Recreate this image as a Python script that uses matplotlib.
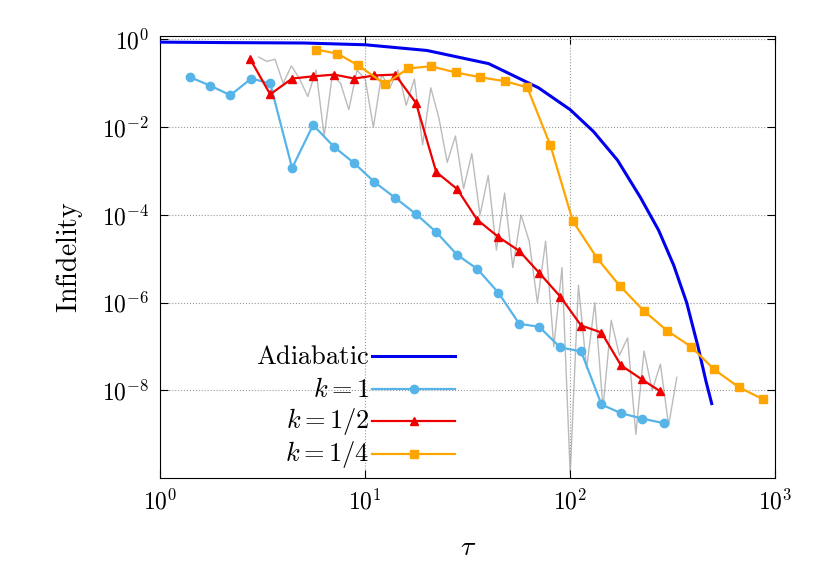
import numpy as np
import matplotlib
matplotlib.use("Agg")
import matplotlib.pyplot as plt
from matplotlib.lines import Line2D

plt.rcParams["mathtext.fontset"] = "cm"
plt.rcParams["font.family"] = "serif"
plt.rcParams["font.serif"] = ["DejaVu Serif"]

adi_tau = [1, 2, 5, 10, 20, 40, 70, 100, 130, 170, 220, 270, 320, 370, 420, 460, 490]
adi_exp = [-0.06, -0.07, -0.08, -0.12, -0.25, -0.55, -1.1, -1.6, -2.1, -2.75, -3.6, -4.35,
           -5.15, -6.0, -7.0, -7.8, -8.3]

k1_tau = [1.4, 1.75, 2.2, 2.78, 3.44, 4.4, 5.57, 7.06, 8.84, 11.1, 14.0, 17.7, 22.2, 28.1,
          35.2, 44.6, 56.4, 70.6, 89.4, 113, 142, 177, 224, 288]
k1_exp = [-0.86, -1.05, -1.27, -0.89, -1.0, -2.93, -1.95, -2.45, -2.82, -3.25, -3.61, -3.98,
          -4.39, -4.91, -5.23, -5.77, -6.48, -6.55, -7.02, -7.11, -8.32, -8.52, -8.64, -8.75]

k2_tau = [2.75, 3.44, 4.4, 5.57, 7.06, 8.84, 11.1, 14.0, 17.7, 22.2, 28.1, 35.2, 44.6,
          56.4, 70.6, 89.4, 113, 142, 177, 224, 275]
k2_exp = [-0.45, -1.25, -0.89, -0.84, -0.80, -0.89, -0.82, -0.8, -1.45, -3.02, -3.41, -4.11,
          -4.5, -4.82, -5.32, -5.86, -6.52, -6.68, -7.43, -7.75, -8.02]

k4_tau = [5.77, 7.3, 9.25, 12.5, 16.2, 20.9, 27.6, 36.2, 48, 61.7, 80, 103, 135, 174, 228,
          297, 388, 503, 666, 871]
k4_exp = [-0.23, -0.32, -0.59, -1.02, -0.66, -0.61, -0.75, -0.86, -0.95, -1.09, -2.41, -4.14,
          -4.98, -5.61, -6.18, -6.64, -7.0, -7.52, -7.93, -8.2]

gray_logtau_start, gray_logtau_step = 0.48, 0.04
gray_exp = [-0.4, -0.5, -0.45, -1.0, -0.6, -0.9, -1.3, -0.7, -2.2, -0.8, -1.0, -1.6, -0.7, -0.9,
            -2.0, -0.8, -1.1, -0.7, -1.5, -0.9, -2.4, -1.1, -1.8, -2.8, -2.2, -3.4, -2.6, -4.0,
            -3.1, -4.8, -3.5, -5.2, -4.0, -4.6, -6.0, -4.6, -7.0, -5.2, -9.9, -5.6, -7.5, -6.0,
            -8.4, -6.4, -7.2, -6.8, -9.0, -7.1, -8.0, -7.4, -8.8, -7.7]

labels = ["Adiabatic", r"$k=1$", r"$k=1/2$", r"$k=1/4$"]
colors = ["#0000ee", "#56b4e9", "#ee0000", "#ffa500"]
markers = [None, "o", "^", "s"]

fig = plt.figure(figsize=(8.3, 5.81), dpi=100)
ax = fig.add_axes([0.193, 0.177, 0.741, 0.761])

p = lambda e: 10.0 ** np.array(e)
gray_tau = 10 ** (gray_logtau_start + gray_logtau_step * np.arange(len(gray_exp)))
ax.plot(gray_tau, p(gray_exp), color="#bbbbbb", lw=1.0, zorder=1)
ax.plot(adi_tau, p(adi_exp), color=colors[0], lw=2.2, zorder=3)
for tau, e, c, m in [(k1_tau, k1_exp, colors[1], "o"), (k2_tau, k2_exp, colors[2], "^"),
                     (k4_tau, k4_exp, colors[3], "s")]:
    ax.plot(tau, p(e), color=c, lw=1.6, marker=m, ms=6, zorder=4)

ax.set_xscale("log")
ax.set_yscale("log")
ax.set_xlim(1, 1000)
ax.set_ylim(1e-10, 1.2)
ax.set_yticks([1, 1e-2, 1e-4, 1e-6, 1e-8])
ax.set_yticklabels([r"$10^{0}$", r"$10^{-2}$", r"$10^{-4}$", r"$10^{-6}$", r"$10^{-8}$"], fontsize=17)
ax.set_xticks([1, 10, 100, 1000])
ax.set_xticklabels([r"$10^{0}$", r"$10^{1}$", r"$10^{2}$", r"$10^{3}$"], fontsize=17)
ax.minorticks_off()
ax.tick_params(direction="in", top=True, right=True, length=6, pad=8)
ax.grid(True, ls=":", color="#999999", lw=0.8)
ax.set_xlabel(r"$\tau$", fontsize=20, labelpad=14)
ax.set_ylabel(r"$\mathrm{Infidelity}$", fontsize=20, labelpad=12)

rows = [0.276, 0.201, 0.129, 0.054]
for lab, c, m, yy in zip(labels, colors, markers, rows):
    txt = r"$\mathrm{Adiabatic}$" if lab == "Adiabatic" else lab
    ax.text(0.34, yy, txt, transform=ax.transAxes, ha="right", va="center", fontsize=19, zorder=6)
    ax.add_line(Line2D([0.345, 0.48], [yy, yy], transform=ax.transAxes, color=c,
                       lw=2.2 if m is None else 1.6, zorder=6))
    if m:
        ax.add_line(Line2D([0.4125], [yy], transform=ax.transAxes, color=c, marker=m, ms=6, zorder=6))

fig.savefig("out.png", dpi=100)
